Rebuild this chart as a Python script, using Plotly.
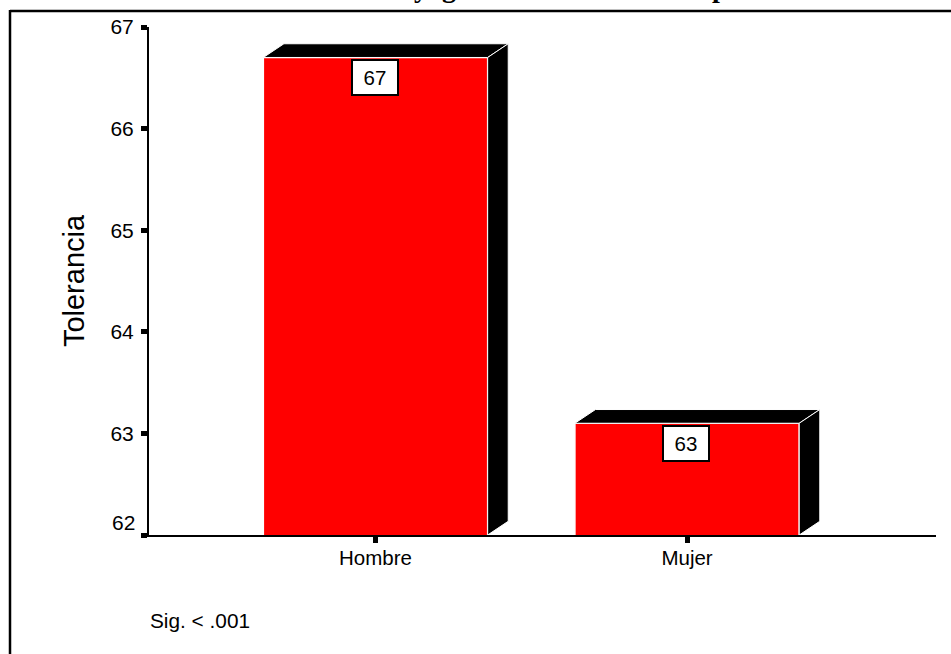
import plotly.graph_objects as go

# Data
categories = ["Hombre", "Mujer"]
values = [66.7, 63.1]
value_labels = ["67", "63"]
y_ticks = [62, 63, 64, 65, 66, 67]
y_title = "Tolerancia"
note = "Sig. < .001"

# Layout (pixels in the 951x654 page)
W, H = 951, 654
L, R, T, B = 149, 936, 27, 535
BAR_W = 0.72
DX, DY = 0.066, 0.135   # depth of the 3D effect in axis units
FONT = "Liberation Sans"


def px(x):
    return (x - L) / (R - L)


def py(y):
    return (B - y) / (B - T)


positions = list(range(len(categories)))

fig = go.Figure()
fig.add_trace(go.Bar(
    x=positions, y=values, width=BAR_W, marker_color="#ff0000",
    marker_line_color="white", marker_line_width=1.5, showlegend=False,
    hoverinfo="skip",
))

base = y_ticks[0]
for i, v in zip(positions, values):
    x0, x1 = i - BAR_W / 2, i + BAR_W / 2
    fig.add_trace(go.Scatter(   # top face
        x=[x0, x0 + DX, x1 + DX, x1, x0], y=[v, v + DY, v + DY, v, v],
        mode="lines", fill="toself", fillcolor="black",
        line=dict(color="white", width=1), showlegend=False, hoverinfo="skip",
    ))
    fig.add_trace(go.Scatter(   # side face
        x=[x1, x1 + DX, x1 + DX, x1, x1], y=[v, v + DY, base + DY, base, v],
        mode="lines", fill="toself", fillcolor="black",
        line=dict(color="white", width=1), showlegend=False, hoverinfo="skip",
    ))

annotations = []
for i, v, lab in zip(positions, values, value_labels):
    annotations.append(dict(
        x=i, y=v, xref="x", yref="y", text=lab, showarrow=False,
        xanchor="center", yanchor="top", yshift=-2, xshift=-1,
        width=44, height=33, align="center", valign="middle",
        bgcolor="white", bordercolor="black", borderwidth=2, borderpad=0,
        font=dict(family=FONT, size=20.5, color="black"),
    ))
annotations.append(dict(
    x=px(148), y=py(620), xref="paper", yref="paper", text=note,
    showarrow=False, xanchor="left", yanchor="middle",
    font=dict(family=FONT, size=20.8, color="black"),
))
# The lowest y label sits above its tick in the reference
annotations.append(dict(
    x=0, y=y_ticks[0], xref="paper", yref="y", text=str(y_ticks[0]),
    showarrow=False, xanchor="right", yanchor="middle", xshift=-12, yshift=13,
    font=dict(family=FONT, size=21, color="black"),
))
# Only the descenders of the cropped title remain visible at the page's top edge
for xc, frag in [(421, "y"), (449, "g"), (720, "p")]:
    annotations.append(dict(
        x=px(xc), y=1, yshift=T - 5, xref="paper", yref="paper", text=frag,
        showarrow=False, xanchor="center", yanchor="bottom",
        font=dict(family="Liberation Serif", size=28, color="black", weight="bold"),
    ))

frame = dict(color="black", width=2.5)
shapes = [
    dict(type="line", xref="paper", yref="paper", x0=px(10), x1=px(W),
         y0=py(11), y1=py(11), line=frame),
    dict(type="line", xref="paper", yref="paper", x0=px(10), x1=px(10),
         y0=py(10), y1=py(H), line=frame),
]

fig.update_layout(
    width=W, height=H, margin=dict(l=L, r=W - R, t=T, b=H - B, autoexpand=False),
    paper_bgcolor="white", plot_bgcolor="white", showlegend=False,
    annotations=annotations, shapes=shapes,
    xaxis=dict(
        range=[-0.727, 1.799], tickvals=positions, ticktext=categories,
        showgrid=False, zeroline=False,
        showline=True, linecolor="black", linewidth=2,
        ticks="outside", ticklen=6, tickwidth=5, tickcolor="black",
        ticklabelstandoff=-3,
        tickfont=dict(family=FONT, size=20.5, color="black"),
    ),
    yaxis=dict(
        range=[y_ticks[0], y_ticks[-1]], tickvals=y_ticks,
        ticktext=[""] + [str(t) for t in y_ticks[1:]],
        showgrid=False, zeroline=False,
        showline=True, linecolor="black", linewidth=2,
        ticks="outside", ticklen=6, tickwidth=5, tickcolor="black",
        ticklabelstandoff=3, automargin=False,
        tickfont=dict(family=FONT, size=21, color="black"),
        title=dict(text=y_title, standoff=17,
                   font=dict(family=FONT, size=29, color="black")),
    ),
)

fig.write_html("out.html", config={"displayModeBar": False},
               post_script="document.body.style.margin='0';")
